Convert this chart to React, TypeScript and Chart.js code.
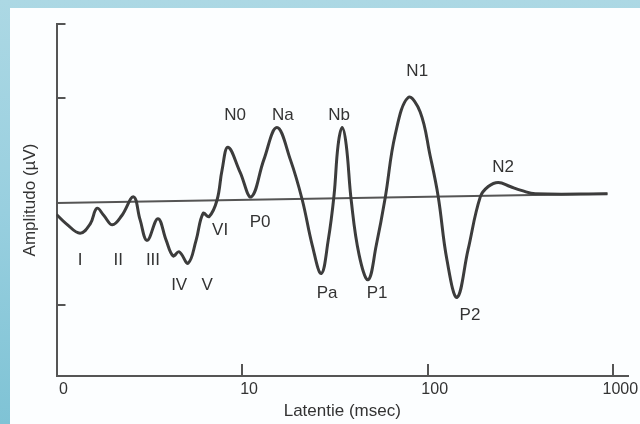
import { useEffect, useRef } from "react";
import { Chart, registerables } from "chart.js";

Chart.register(...registerables);

// Waveform: latency (ms, log axis) and amplitude (µV, relative units)
const latencyMs = [
  1.0, 1.13, 1.34, 1.52, 1.65, 1.8, 2.0, 2.25, 2.6, 2.82, 3.08, 3.52, 3.9, 4.25, 4.58,
  5.12, 5.65, 6.16, 6.64, 7.33, 7.8, 8.4, 9.75, 11.2, 13.1, 15.4, 18.2, 21.1, 23.9,
  26.7, 29.1, 31.3, 32.9, 34.6, 36.4, 38.7, 42.7, 47.8, 52.8, 59.0, 66.8, 78.5, 91.1,
  103, 114, 127, 144, 165, 192, 212, 240, 278, 323, 380, 930,
];
const amplitudeUv = [
  -0.13, -0.22, -0.31, -0.22, -0.07, -0.14, -0.23, -0.14, 0.04, -0.18, -0.38, -0.17, -0.38,
  -0.53, -0.49, -0.6, -0.38, -0.12, -0.15, 0.01, 0.3, 0.52, 0.28, 0.04, 0.4, 0.71, 0.4,
  0.01, -0.43, -0.7, -0.38, 0.06, 0.54, 0.71, 0.54, 0.01, -0.52, -0.76, -0.43, 0.03,
  0.64, 1.0, 0.86, 0.44, 0.04, -0.57, -0.93, -0.47, 0.04, 0.14, 0.18, 0.14, 0.1, 0.07, 0.07,
];

// Reference (zero) line
const baselineMs = [1, 930];
const baselineUv = [-0.02, 0.07];

// Peak labels
const peakNames = ["I", "II", "III", "IV", "V", "VI", "N0", "P0", "Na", "Pa", "Nb", "P1", "N1", "P2", "N2"];
const peakLabelMs = [1.34, 2.15, 3.31, 4.58, 6.48, 7.61, 9.17, 12.5, 16.6, 28.7, 33.3, 53.4, 87.8, 169, 255];
const peakLabelUv = [-0.57, -0.57, -0.57, -0.81, -0.81, -0.28, 0.83, -0.21, 0.83, -0.89, 0.83, -0.89, 1.25, -1.1, 0.33];

// Axis ticks
const xTickValues = [1, 10, 100, 1000];
const xTickLabels = ["0", "10", "100", "1000"];
const yTickValues = [-1, 1, 1.71];

const FONT = "'Liberation Sans', Arial, Helvetica, sans-serif";

const peakLabelPlugin = {
  id: "peakLabels",
  afterDatasetsDraw(chart: any) {
    const { ctx, scales } = chart;
    const xs = scales.x;
    const ys = scales.y;
    ctx.save();
    ctx.font = `17px ${FONT}`;
    ctx.fillStyle = "#333";
    ctx.textAlign = "center";
    ctx.textBaseline = "middle";
    peakNames.forEach((name, i) => {
      ctx.fillText(name, xs.getPixelForValue(peakLabelMs[i]), ys.getPixelForValue(peakLabelUv[i]));
    });
    ctx.restore();
  },
};

export default function App() {
  const canvasRef = useRef<HTMLCanvasElement | null>(null);

  useEffect(() => {
    if (!canvasRef.current) return;
    const chart = new Chart(canvasRef.current, {
      type: "line",
      data: {
        datasets: [
          {
            data: latencyMs.map((t, i) => ({ x: t, y: amplitudeUv[i] })),
            borderColor: "#3c3c3c",
            borderWidth: 3,
            pointRadius: 0,
            tension: 0.4,
            fill: false,
          },
          {
            data: baselineMs.map((t, i) => ({ x: t, y: baselineUv[i] })),
            borderColor: "#555",
            borderWidth: 2,
            pointRadius: 0,
            tension: 0,
            fill: false,
          },
        ],
      },
      options: {
        responsive: false,
        animation: false,
        layout: { padding: { left: 0, right: 12, top: 24, bottom: 0 } },
        plugins: { legend: { display: false }, tooltip: { enabled: false } },
        scales: {
          x: {
            type: "logarithmic",
            min: 1,
            max: 1200,
            afterBuildTicks: (scale: any) => {
              scale.ticks = xTickValues.map((v) => ({ value: v }));
            },
            afterFit: (scale: any) => {
              scale.height = 48;
              scale.paddingLeft = 0;
              scale.paddingRight = 0;
            },
            border: { display: true, color: "#555", width: 2 },
            grid: {
              display: true,
              drawOnChartArea: false,
              drawTicks: true,
              tickLength: -12,
              lineWidth: 2,
              tickColor: (ctx: any) => (ctx.tick && ctx.tick.value === 1 ? "rgba(0,0,0,0)" : "#555"),
            },
            ticks: {
              autoSkip: false,
              maxRotation: 0,
              padding: 16,
              labelOffset: 7,
              color: "#333",
              font: { family: FONT, size: 16 },
              callback: (v: any) => {
                const idx = xTickValues.indexOf(Number(v));
                return idx >= 0 ? xTickLabels[idx] : "";
              },
            },
            title: {
              display: true,
              text: "Latentie (msec)",
              color: "#333",
              font: { family: FONT, size: 17 },
              padding: { top: 0, bottom: 2 },
            },
          },
          y: {
            type: "linear",
            min: -1.69,
            max: 1.71,
            afterBuildTicks: (scale: any) => {
              scale.ticks = yTickValues.map((v) => ({ value: v }));
            },
            afterFit: (scale: any) => {
              scale.width = 56.5;
              scale.paddingTop = 0;
              scale.paddingBottom = 0;
            },
            border: { display: true, color: "#555", width: 2 },
            grid: {
              display: true,
              drawOnChartArea: false,
              drawTicks: true,
              tickLength: -9,
              lineWidth: 2,
              tickColor: "#555",
            },
            ticks: { display: false },
            title: {
              display: true,
              text: "Amplitudo (µV)",
              color: "#333",
              font: { family: FONT, size: 17 },
              padding: { top: 20, bottom: 0 },
            },
          },
        },
      },
      plugins: [peakLabelPlugin],
    } as any);
    return () => chart.destroy();
  }, []);

  return (
    <div
      style={{
        position: "fixed",
        left: 0,
        top: 0,
        width: 640,
        height: 424,
        background: "linear-gradient(to bottom, #acd8e4 0%, #98cfdf 50%, #7fc3d5 100%)",
        overflow: "hidden",
      }}
    >
      <div
        style={{
          position: "absolute",
          left: 10,
          top: 8,
          right: 0,
          bottom: 0,
          background: "#fcfeff",
        }}
      />
      <canvas
        ref={canvasRef}
        width={640}
        height={424}
        style={{ position: "absolute", left: 0, top: 0, display: "block" }}
      />
    </div>
  );
}
